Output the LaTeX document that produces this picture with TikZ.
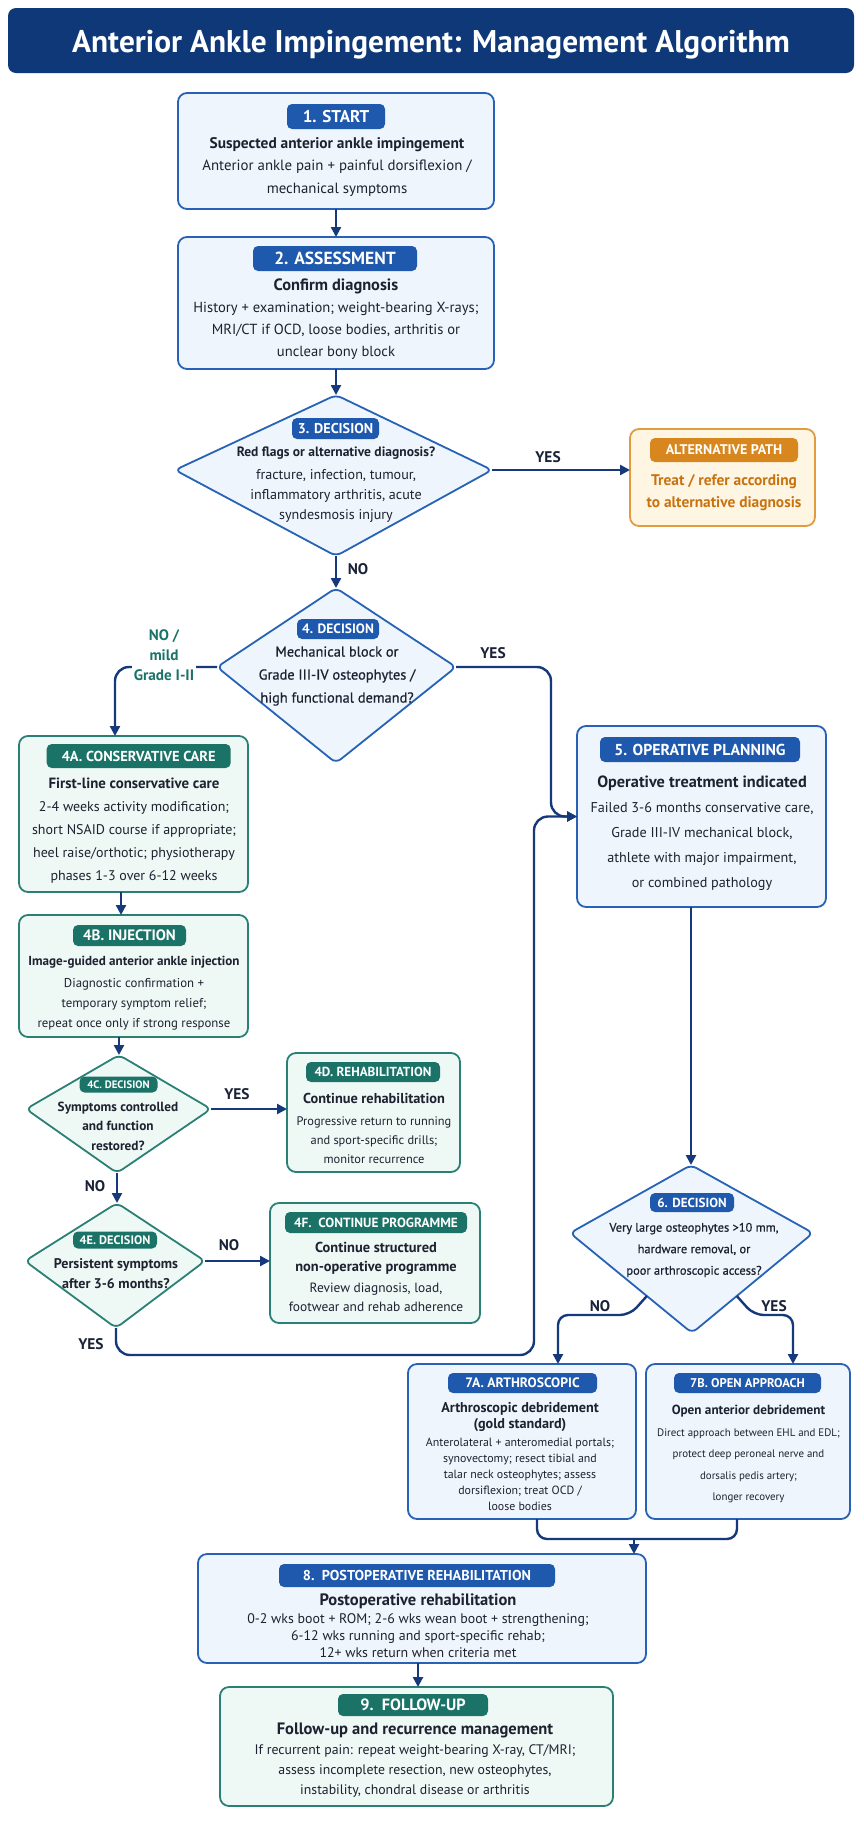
\documentclass[tikz,border=0pt]{standalone}
\usepackage{fontspec}
\setmainfont{PT Sans}
\newfontfamily\medfont[FakeBold=0.7]{PT Sans}
\usetikzlibrary{arrows.meta,calc}
\definecolor{navy}{HTML}{0E3877}
\definecolor{arrc}{HTML}{16397B}
\definecolor{bblue}{HTML}{2762B6}
\definecolor{bbadge}{HTML}{1F59AD}
\definecolor{bfill}{HTML}{EEF5FC}
\definecolor{tborder}{HTML}{2B8075}
\definecolor{tbadge}{HTML}{1B7368}
\definecolor{tfill}{HTML}{EEF8F5}
\definecolor{oborder}{HTML}{E39B3F}
\definecolor{obadge}{HTML}{D8861E}
\definecolor{ofill}{HTML}{FFF5E3}
\definecolor{otext}{HTML}{C9730F}
\definecolor{ink}{HTML}{1E2230}
\definecolor{labc}{HTML}{1A2238}
\definecolor{tlab}{HTML}{1B7368}
\newcommand\R{1.0}
\newcommand\Rb{1.1}
\newcommand\fs[2]{\fontsize{\fpeval{#1*\R}pt}{#2pt}\selectfont}
\newcommand\fsb[2]{\fontsize{\fpeval{#1*\Rb}pt}{#2pt}\selectfont\bfseries}
\tikzset{
 every node/.style={inner sep=0pt, outer sep=0pt},
 box/.style={line width=1.8pt, rounded corners=9pt},
 bluebox/.style={box, draw=bblue, fill=bfill},
 tealbox/.style={box, draw=tborder, fill=tfill},
 orangebox/.style={box, draw=oborder, fill=ofill},
 bluekite/.style={line width=1.8pt, draw=bblue, fill=bfill, rounded corners=6pt},
 tealkite/.style={line width=1.8pt, draw=tborder, fill=tfill, rounded corners=6pt},
 badge/.style={rounded corners=5pt, text=white},
 bbadge/.style={badge, fill=bbadge},
 tbadge/.style={badge, fill=tbadge},
 obadge/.style={badge, fill=obadge},
 txt/.style={align=center, text=ink},
 arr/.style={draw=arrc, line width=2.4pt, -{Triangle[length=10pt,width=10pt]}},
 conn/.style={draw=arrc, line width=2.4pt},
 lbl/.style={text=labc, font=\fsb{14}{16}},
}
\begin{document}
\begin{tikzpicture}[x=1pt,y=-1pt]
\useasboundingbox (0,0) rectangle (864,1821);
\fill[white] (0,0) rectangle (864,1821);

% title
\node[fill=navy, rounded corners=8pt, minimum width=846pt, minimum height=65pt] (title) at (431,40.5) {};
\node[text=white, font=\fsb{28.5}{30}] (titletxt) at (431,44.5) {Anterior Ankle Impingement: Management Algorithm};

% box 1
\node[bluebox, minimum width=316pt, minimum height=116pt] (b1) at (336,151) {};
\node[bbadge, minimum width=98pt, minimum height=25pt, font=\fsb{15.5}{18}] (b1h) at (336,116.5) {1. START};
\node[txt, font=\fs{14.85}{22.5}] (b1t) at (337,167) {{\fsb{14}{22.5}Suspected anterior ankle impingement}\\Anterior ankle pain + painful dorsiflexion /\\mechanical symptoms};

% box 2
\node[bluebox, minimum width=316pt, minimum height=132pt] (b2) at (336,303) {};
\node[bbadge, minimum width=164pt, minimum height=25pt, font=\fsb{15.9}{18}] (b2h) at (335,258.5) {2. ASSESSMENT};
\node[txt, font=\fs{14.6}{22}] (b2t) at (336,319) {{\fsb{14.9}{22}Confirm diagnosis}\\History + examination; weight-bearing X-rays;\\MRI/CT if OCD, loose bodies, arthritis or\\unclear bony block};

% diamond 3
\coordinate (d3t) at (336,395);
\coordinate (d3r) at (492,470);
\coordinate (d3b) at (336,556);
\coordinate (d3l) at (175,470);
\draw[bluekite] (d3t) -- (d3r) -- (d3b) -- (d3l) -- cycle;
\node[bbadge, minimum width=87pt, minimum height=21pt, font=\fsb{12.9}{15}] (d3h) at (335.5,428.5) {3. DECISION};
\node[txt, font=\fs{14.1}{20}] (d3x) at (336,485) {{\fsb{12.3}{20}Red flags or alternative diagnosis?}\\[3pt]fracture, infection, tumour,\\inflammatory arthritis, acute\\syndesmosis injury};

% alternative
\node[orangebox, minimum width=185pt, minimum height=97pt] (alt) at (722.5,477.5) {};
\node[obadge, minimum width=148pt, minimum height=24pt, font=\fsb{12.7}{15}] (alth) at (724,450) {ALTERNATIVE PATH};
\node[txt, text=otext, font=\fsb{14}{22}] (altt) at (724,493) {Treat / refer according\\to alternative diagnosis};

% diamond 4
\coordinate (d4t) at (336,588);
\coordinate (d4r) at (456,667);
\coordinate (d4b) at (336,763);
\coordinate (d4l) at (217,667);
\draw[bluekite] (d4t) -- (d4r) -- (d4b) -- (d4l) -- cycle;
\node[bbadge, minimum width=82pt, minimum height=20pt, font=\fsb{12.3}{15}] (d4h) at (338,629) {4. DECISION};
\node[txt, font=\medfont\fs{14.4}{23}] (d4x) at (337,676) {Mechanical block or\\Grade III-IV osteophytes /\\high functional demand?};

% box 4A
\node[tealbox, minimum width=229pt, minimum height=156pt] (b4a) at (133.5,814) {};
\node[tbadge, minimum width=184pt, minimum height=24pt, font=\fsb{13.1}{15}] (b4ah) at (138.7,756) {4A. CONSERVATIVE CARE};
\node[txt, font=\fs{14}{23}] (b4at) at (134,831) {{\fsb{13.5}{23}First-line conservative care}\\2-4 weeks activity modification;\\short NSAID course if appropriate;\\heel raise/orthotic; physiotherapy\\phases 1-3 over 6-12 weeks};

% box 5
\node[bluebox, minimum width=249pt, minimum height=181pt] (b5) at (701.5,816.5) {};
\node[bbadge, minimum width=200pt, minimum height=25pt, font=\fsb{14.4}{17}] (b5h) at (700,749.5) {5. OPERATIVE PLANNING};
\node[txt, font=\fs{14.2}{25}] (b5t) at (702,833) {{\fsb{14.8}{25}Operative treatment indicated}\\Failed 3-6 months conservative care,\\Grade III-IV mechanical block,\\athlete with major impairment,\\or combined pathology};

% box 4B
\node[tealbox, minimum width=229pt, minimum height=122pt] (b4b) at (133.5,976) {};
\node[tbadge, minimum width=113pt, minimum height=21pt, font=\fsb{13.7}{15}] (b4bh) at (129.5,935.5) {4B. INJECTION};
\node[txt, font=\fs{12.8}{20}] (b4bt) at (134,993) {{\fsb{11.9}{20}Image-guided anterior ankle injection}\\[2pt]Diagnostic confirmation +\\temporary symptom relief;\\repeat once only if strong response};

% diamond 4C
\coordinate (d4ct) at (119,1055);
\coordinate (d4cr) at (211,1109);
\coordinate (d4cb) at (117,1173);
\coordinate (d4cl) at (26,1109);
\draw[tealkite] (d4ct) -- (d4cr) -- (d4cb) -- (d4cl) -- cycle;
\node[tbadge, minimum width=78pt, minimum height=16pt, font=\fsb{9.8}{12}] (d4ch) at (118.5,1084.5) {4C. DECISION};
\node[txt, font=\fsb{12.06}{19.5}] (d4cx) at (118,1126) {Symptoms controlled\\and function\\restored?};

% box 4D
\node[tealbox, minimum width=173pt, minimum height=119pt] (b4d) at (373.5,1112.5) {};
\node[tbadge, minimum width=134pt, minimum height=20pt, font=\fsb{11.9}{14}] (b4dh) at (373,1072) {4D. REHABILITATION};
\node[txt, font=\fs{12.4}{19}] (b4dt) at (374,1128) {{\fsb{13.05}{19}Continue rehabilitation}\\[3pt]Progressive return to running\\and sport-specific drills;\\monitor recurrence};

% diamond 4E
\coordinate (d4et) at (117,1203);
\coordinate (d4er) at (205,1261);
\coordinate (d4eb) at (116,1328);
\coordinate (d4el) at (25,1261);
\draw[tealkite] (d4et) -- (d4er) -- (d4eb) -- (d4el) -- cycle;
\node[tbadge, minimum width=84pt, minimum height=17pt, font=\fsb{11.2}{13}] (d4eh) at (115,1240) {4E. DECISION};
\node[txt, font=\fsb{12.75}{20}] (d4ex) at (116,1274) {Persistent symptoms\\after 3-6 months?};

% box 4F
\node[tealbox, minimum width=210pt, minimum height=120pt] (b4f) at (375,1263) {};
\node[tbadge, minimum width=182pt, minimum height=21pt, font=\fsb{12.1}{14}] (b4fh) at (376,1222.5) {4F.\ \ CONTINUE PROGRAMME};
\node[txt, font=\fs{13.4}{19.5}] (b4ft) at (376,1277) {{\fsb{13.1}{19.5}Continue structured}\\{\fsb{13.1}{19.5}non-operative programme}\\[1pt]Review diagnosis, load,\\footwear and rehab adherence};

% diamond 6
\coordinate (d6t) at (691,1165);
\coordinate (d6r) at (813,1233);
\coordinate (d6b) at (692,1333);
\coordinate (d6l) at (570,1233);
\draw[bluekite] (d6t) -- (d6r) -- (d6b) -- (d6l) -- cycle;
\node[bbadge, minimum width=84pt, minimum height=19pt, font=\fsb{11.9}{14}] (d6h) at (692,1202.5) {6. DECISION};
\node[txt, font=\medfont\fs{12.4}{21.5}] (d6x) at (694,1250) {Very large osteophytes >10 mm,\\hardware removal, or\\poor arthroscopic access?};

% box 7A
\node[bluebox, minimum width=228pt, minimum height=155pt] (b7a) at (522,1441.5) {};
\node[bbadge, minimum width=149pt, minimum height=20pt, font=\fsb{12.4}{14}] (b7ah) at (522.5,1383) {7A. ARTHROSCOPIC};
\node[txt, font=\fs{11.9}{16}] (b7at) at (520,1457) {{\fsb{12.9}{16}Arthroscopic debridement}\\{\fsb{12.9}{16}(gold standard)}\\[2pt]Anterolateral + anteromedial portals;\\synovectomy; resect tibial and\\talar neck osteophytes; assess\\dorsiflexion; treat OCD /\\loose bodies};

% box 7B
\node[bluebox, minimum width=204pt, minimum height=155pt] (b7b) at (748,1441.5) {};
\node[bbadge, minimum width=147pt, minimum height=20pt, font=\fsb{11.5}{14}] (b7bh) at (747.5,1383) {7B. OPEN APPROACH};
\node[txt, font=\fs{10.9}{21.5}] (b7bt) at (748.5,1454) {{\fsb{12}{21.5}Open anterior debridement}\\Direct approach between EHL and EDL;\\protect deep peroneal nerve and\\dorsalis pedis artery;\\longer recovery};

% box 8
\node[bluebox, minimum width=448pt, minimum height=109pt] (b8) at (422,1608.5) {};
\node[bbadge, minimum width=276pt, minimum height=23pt, font=\fsb{13}{15}] (b8h) at (417,1575.5) {8.\ \ POSTOPERATIVE REHABILITATION};
\node[txt, font=\fs{13.9}{17}] (b8t) at (418,1626) {{\fsb{15}{17}Postoperative rehabilitation}\\[1pt]0-2 wks boot + ROM; 2-6 wks wean boot + strengthening;\\6-12 wks running and sport-specific rehab;\\12+ wks return when criteria met};

% box 9
\node[tealbox, minimum width=393pt, minimum height=119pt] (b9) at (416.5,1746.5) {};
\node[tbadge, minimum width=150pt, minimum height=22pt, font=\fsb{14.8}{17}] (b9h) at (413,1705) {9.\ \ FOLLOW-UP};
\node[txt, font=\fs{13.8}{20}] (b9t) at (415,1760) {{\fsb{15}{20}Follow-up and recurrence management}\\If recurrent pain: repeat weight-bearing X-ray, CT/MRI;\\assess incomplete resection, new osteophytes,\\instability, chondral disease or arthritis};

% connectors
\draw[arr] (b1) -- (b2);
\draw[arr] (b2.south) -- (d3t);
\draw[arr] (d3r) -- (d3r -| alt.west);
\node[lbl] (l3yes) at (548,457) {YES};
\draw[arr] (d3b) -- (d4t);
\node[lbl] (l3no) at (358,569) {NO};
\draw[arr, rounded corners=14pt] (d4l) -| ([xshift=-18.5pt]b4a.north);
\node[font=\fsb{13.8}{20}, text=tlab, fill=white, align=center, inner sep=2pt] (l4no) at (164,655) {NO /\\mild\\Grade I-II};
\draw[arr, rounded corners=14pt] (d4r) -| ([xshift=-26pt]b5.west) -- (b5.west);
\node[lbl] (l4yes) at (493,653) {YES};
\draw[arr] ([xshift=-12.5pt]b4a.south) -- ([xshift=-12.5pt]b4b.north);
\draw[arr] (b4b.south -| d4ct) -- (d4ct);
\draw[arr] (d4cr) -- (d4cr -| b4d.west);
\node[lbl] (l4cyes) at (237,1094) {YES};
\draw[arr] (d4cb) -- (d4et);
\node[lbl] (l4cno) at (95,1186) {NO};
\draw[arr] (d4er) -- (d4er -| b4f.west);
\node[lbl] (l4eno) at (229,1245) {NO};
\coordinate (r4e) at (534,1355);
\draw[arr, rounded corners=14pt] (d4eb) |- (r4e) |- (b5.west);
\node[lbl] (l4eyes) at (91,1344) {YES};
\draw[arr] (b5.south -| d6t) -- (d6t);
\coordinate (d6n) at ($(d6l)!0.63!(d6b)$);
\coordinate (d6y) at ($(d6r)!0.63!(d6b)$);
\draw[arr, rounded corners=10pt] (d6n) -- ++(-17,19) -| ([xshift=36pt]b7a.north);
\node[lbl] (l6no) at (600,1306) {NO};
\draw[arr, rounded corners=10pt] (d6y) -- ++(17,19) -| ([xshift=45pt]b7b.north);
\node[lbl] (l6yes) at (774,1306) {YES};
\coordinate (m7a) at ([xshift=15pt]b7a.south);
\coordinate (m7b) at ([xshift=-11pt]b7b.south);
\coordinate (m78) at (634,1539);
\draw[conn, rounded corners=10pt] (m7a) |- (m78) -| (m7b);
\draw[arr] (m78) -- (m78 |- b8.north);
\draw[arr] ([xshift=-4pt]b8.south) -- ([xshift=1.5pt]b9.north);
\end{tikzpicture}
\end{document}
